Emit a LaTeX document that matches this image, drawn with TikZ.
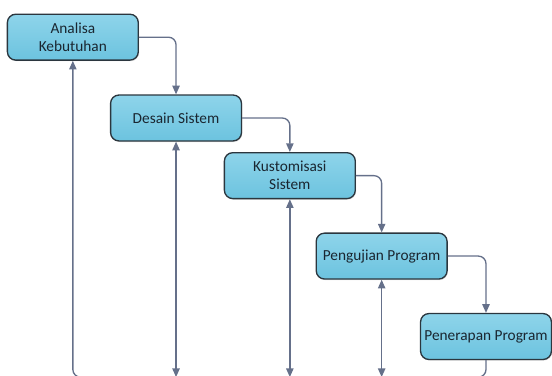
\documentclass[tikz,border=0pt]{standalone}
\usepackage{fontspec}
\setmainfont{Carlito}
\usetikzlibrary{arrows.meta,shadows}

\definecolor{boxtop}{HTML}{8ED4EA}
\definecolor{boxbottom}{HTML}{6CC3DF}
\definecolor{boxline}{HTML}{2B363E}
\definecolor{boxtext}{HTML}{1A2630}
\definecolor{linecol}{HTML}{65708A}

\begin{document}
\begin{tikzpicture}[
  box/.style={draw=boxline, line width=1pt, rounded corners=0.22cm,
    top color=boxtop, bottom color=boxbottom,
    minimum width=3.45cm, minimum height=1.21cm, inner sep=1pt,
    align=center, text=boxtext, font=\fontsize{11.5}{13.5}\selectfont,
    drop shadow={opacity=0.25, shadow xshift=0.6pt, shadow yshift=-0.8pt}},
  flow/.style={draw=linecol, line width=1pt, rounded corners=0.2cm,
    -{Triangle[length=6.5pt,width=5.5pt]}},
  both/.style={flow, {Triangle[length=6.5pt,width=5.5pt]}-{Triangle[length=6.5pt,width=5.5pt]}}
]

% Page frame (the bottom return line runs just below it)
\useasboundingbox (0,0) rectangle (14.55,-9.91);
\clip (0,0) rectangle (14.55,-9.91);

% Define points for the steps
\coordinate (A) at (1.92, -0.98);
\coordinate (B) at (4.64, -3.11);
\coordinate (C) at (7.64, -4.63);
\coordinate (D) at (10.06, -6.75);
\coordinate (E) at (12.81, -8.87);

% Bottom return line
\coordinate (bot) at (0, -9.94);

% Steps
\node[box] (analisa) at (A) {Analisa\\Kebutuhan};
\node[box] (desain) at (B) {Desain Sistem};
\node[box] (kustom) at (C) {Kustomisasi\\Sistem};
\node[box] (uji) at (D) {Pengujian Program};
\node[box] (terap) at (E) {Penerapan Program};

% Forward flow
\draw[flow] (analisa.east) -| (desain.north);
\draw[flow] (desain.east) -| (kustom.north);
\draw[flow] (kustom.east) -| (uji.north);
\draw[flow] (uji.east) -| (terap.north);

% Return path
\draw[flow] (terap.south) -- (terap.south |- bot) -- (analisa.south |- bot) -- (analisa.south);
\draw[both] (desain.south |- bot) -- (desain.south);
\draw[both] (kustom.south |- bot) -- (kustom.south);
\draw[both] (uji.south |- bot) -- (uji.south);

\end{tikzpicture}
\end{document}
